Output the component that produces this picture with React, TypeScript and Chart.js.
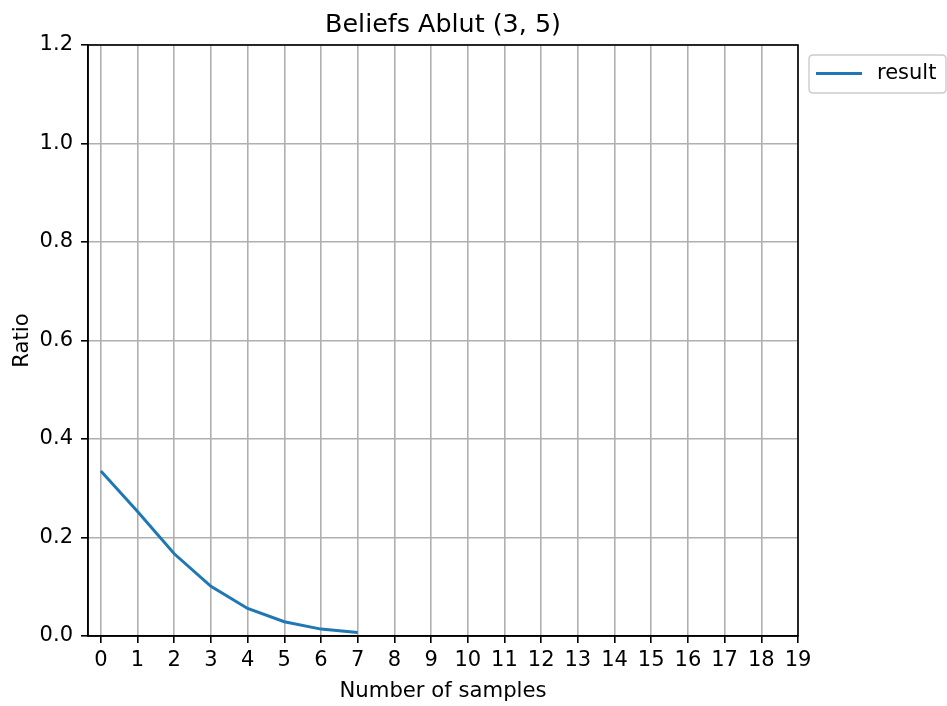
import React, { useEffect, useRef } from 'react';
import { Chart, registerables } from 'chart.js';

Chart.register(...registerables);

const titleText = 'Beliefs Ablut (3, 5)';
const xLabel = 'Number of samples';
const yLabel = 'Ratio';
const seriesName = 'result';

const samples = [0, 1, 2, 3, 4, 5, 6, 7];
const ratio = [0.335, 0.253, 0.167, 0.101, 0.056, 0.029, 0.014, 0.007];

const xTicks = [0, 1, 2, 3, 4, 5, 6, 7, 8, 9, 10, 11, 12, 13, 14, 15, 16, 17, 18, 19];
const yTicks = [0, 0.2, 0.4, 0.6, 0.8, 1.0, 1.2];
const yTickLabels = ['0.0', '0.2', '0.4', '0.6', '0.8', '1.0', '1.2'];

const FONT = '"DejaVu Sans", Verdana, sans-serif';
const LINE_COLOR = '#1f77b4';

export default function App() {
  const ref = useRef<HTMLCanvasElement | null>(null);

  useEffect(() => {
    const canvas = ref.current;
    if (!canvas) return;

    const decor = {
      id: 'decor',
      afterDatasetsDraw(chart: any) {
        const ctx = chart.ctx;
        const a = chart.chartArea;
        ctx.save();
        ctx.strokeStyle = '#000';
        ctx.lineWidth = 1.6;
        ctx.strokeRect(a.left, a.top, a.right - a.left, a.bottom - a.top);
        ctx.restore();
      },
      afterDraw(chart: any) {
        const ctx = chart.ctx;
        const a = chart.chartArea;
        const cx = (a.left + a.right) / 2;
        const cy = (a.top + a.bottom) / 2;
        ctx.save();
        ctx.fillStyle = '#000';
        ctx.textBaseline = 'alphabetic';
        ctx.textAlign = 'center';
        ctx.font = `25.4px ${FONT}`;
        ctx.fillText(titleText, cx, 32);
        ctx.font = `21.2px ${FONT}`;
        ctx.fillText(xLabel, cx, 697);
        ctx.save();
        ctx.translate(27.5, cy);
        ctx.rotate(-Math.PI / 2);
        ctx.fillText(yLabel, 0, 0);
        ctx.restore();

        // legend
        const lx = 809, ly = 55, lw = 137, lh = 38, r = 4;
        ctx.beginPath();
        ctx.moveTo(lx + r, ly);
        ctx.lineTo(lx + lw - r, ly);
        ctx.quadraticCurveTo(lx + lw, ly, lx + lw, ly + r);
        ctx.lineTo(lx + lw, ly + lh - r);
        ctx.quadraticCurveTo(lx + lw, ly + lh, lx + lw - r, ly + lh);
        ctx.lineTo(lx + r, ly + lh);
        ctx.quadraticCurveTo(lx, ly + lh, lx, ly + lh - r);
        ctx.lineTo(lx, ly + r);
        ctx.quadraticCurveTo(lx, ly, lx + r, ly);
        ctx.closePath();
        ctx.fillStyle = 'rgba(255,255,255,0.8)';
        ctx.fill();
        ctx.strokeStyle = '#cccccc';
        ctx.lineWidth = 1.4;
        ctx.stroke();
        ctx.beginPath();
        ctx.moveTo(816, 73.5);
        ctx.lineTo(862, 73.5);
        ctx.strokeStyle = LINE_COLOR;
        ctx.lineWidth = 3;
        ctx.stroke();
        ctx.fillStyle = '#000';
        ctx.textAlign = 'left';
        ctx.textBaseline = 'middle';
        ctx.font = `21px ${FONT}`;
        ctx.fillText(seriesName, 877, 74);
        ctx.restore();
      },
    };

    const chart = new Chart(canvas, {
      type: 'line',
      data: {
        datasets: [
          {
            label: seriesName,
            data: samples.map((x, i) => ({ x, y: ratio[i] })),
            borderColor: LINE_COLOR,
            backgroundColor: LINE_COLOR,
            borderWidth: 3,
            pointRadius: 0,
            tension: 0,
            fill: false,
          },
        ],
      },
      options: {
        responsive: false,
        animation: false,
        devicePixelRatio: 1,
        layout: { padding: { left: 0, top: 45, right: 149, bottom: 0 } },
        plugins: {
          legend: { display: false },
          title: { display: false },
          tooltip: { enabled: false },
        },
        scales: {
          x: {
            type: 'linear',
            min: -0.35,
            max: 19,
            afterBuildTicks: (s: any) => {
              s.ticks = xTicks.map((v) => ({ value: v }));
            },
            afterFit: (s: any) => {
              s.height = 70;
            },
            grid: {
              color: '#b0b0b0',
              lineWidth: 1.6,
              tickColor: '#000',
              tickLength: 7,
              tickWidth: 1.6,
            },
            border: { display: true, color: '#000', width: 1.6 },
            ticks: {
              color: '#000',
              font: { family: FONT, size: 21 },
              padding: 5,
              maxRotation: 0,
              autoSkip: false,
              callback: (v: any) => String(v),
            },
          },
          y: {
            type: 'linear',
            min: 0,
            max: 1.2,
            afterBuildTicks: (s: any) => {
              s.ticks = yTicks.map((v) => ({ value: v }));
            },
            afterFit: (s: any) => {
              s.width = 88;
            },
            grid: {
              color: '#b0b0b0',
              lineWidth: 1.6,
              tickColor: '#000',
              tickLength: 7,
              tickWidth: 1.6,
            },
            border: { display: true, color: '#000', width: 1.6 },
            ticks: {
              color: '#000',
              font: { family: FONT, size: 21 },
              padding: 8,
              autoSkip: false,
              callback: (_v: any, i: number) => yTickLabels[i],
            },
          },
        },
      },
      plugins: [decor],
    } as any);

    return () => chart.destroy();
  }, []);

  return (
    <div style={{ position: 'absolute', left: 0, top: 0, width: 947, height: 706, background: '#fff' }}>
      <canvas ref={ref} width={947} height={706} style={{ display: 'block' }} />
    </div>
  );
}
